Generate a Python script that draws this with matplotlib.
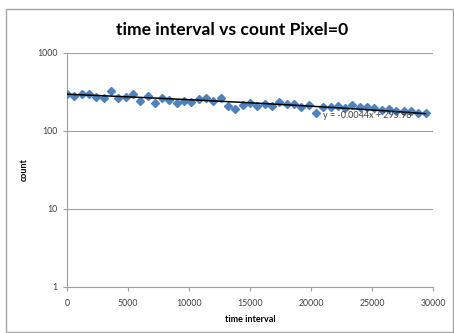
import matplotlib.pyplot as plt
import numpy as np
from matplotlib.patches import Rectangle

plt.rcParams['font.family'] = ['Lato', 'DejaVu Sans']

# time interval (x) and counts
time_interval = list(range(0, 30000, 600))
count = [298, 284, 298, 296, 275, 263, 326, 267, 275, 296,
         243, 281, 226, 263, 250, 226, 245, 238, 255, 267,
         245, 267, 211, 191, 215, 231, 209, 222, 209, 238,
         220, 222, 201, 215, 169, 205, 205, 209, 195, 215,
         205, 201, 195, 186, 190, 180, 178, 183, 172, 169]

# linear trendline as given by the label
slope = -0.0044
intercept = 295.98
trend_label = "y = -0.0044x + 295.98"

fig = plt.figure(figsize=(4.54, 3.33), dpi=100)
fig.patches.append(Rectangle((6 / 454, 1 / 333), 447 / 454, 323 / 333,
                             transform=fig.transFigure, fill=False,
                             edgecolor='#a6a6a6', linewidth=1))

ax = fig.add_axes([67 / 454, 46 / 333, 366 / 454, 234 / 333])
ax.set_yscale('log')
ax.set_xlim(0, 30000)
ax.set_ylim(1, 1000)

ax.plot(time_interval, count, linestyle='none', marker='D',
        markersize=4.2, color='#4f81bd', zorder=3)

xt = np.linspace(time_interval[0], time_interval[-1], 50)
ax.plot(xt, slope * xt + intercept, color='black', linewidth=1.1, zorder=4)
ax.text(21000, 158, trend_label, fontsize=6.5, color='#404040',
        va='center', ha='left', zorder=5)

ax.set_xticks([0, 5000, 10000, 15000, 20000, 25000, 30000])
ax.set_yticks([1, 10, 100, 1000])
ax.set_yticklabels(['1', '10', '100', '1000'])
ax.minorticks_off()
ax.grid(axis='y', color='#a0a0a0', linewidth=0.8)
ax.set_axisbelow(True)
for s in ['top', 'right']:
    ax.spines[s].set_visible(False)
for s in ['left', 'bottom']:
    ax.spines[s].set_color('#a0a0a0')
ax.tick_params(axis='both', labelsize=6.3, colors='#a0a0a0',
               labelcolor='#404040', length=3, width=0.8)
ax.tick_params(axis='x', pad=6)
ax.tick_params(axis='y', pad=4)

ax.set_xlabel('time interval', fontsize=6.5, fontweight='bold', labelpad=5)
ax.set_ylabel('count', fontsize=6.5, fontweight='bold', labelpad=6)

fig.text(232 / 454, 1 - 30 / 333, 'time interval vs count Pixel=0',
         fontsize=12.6, fontweight='bold', ha='center', va='center')

fig.savefig('out.png', dpi=100)
